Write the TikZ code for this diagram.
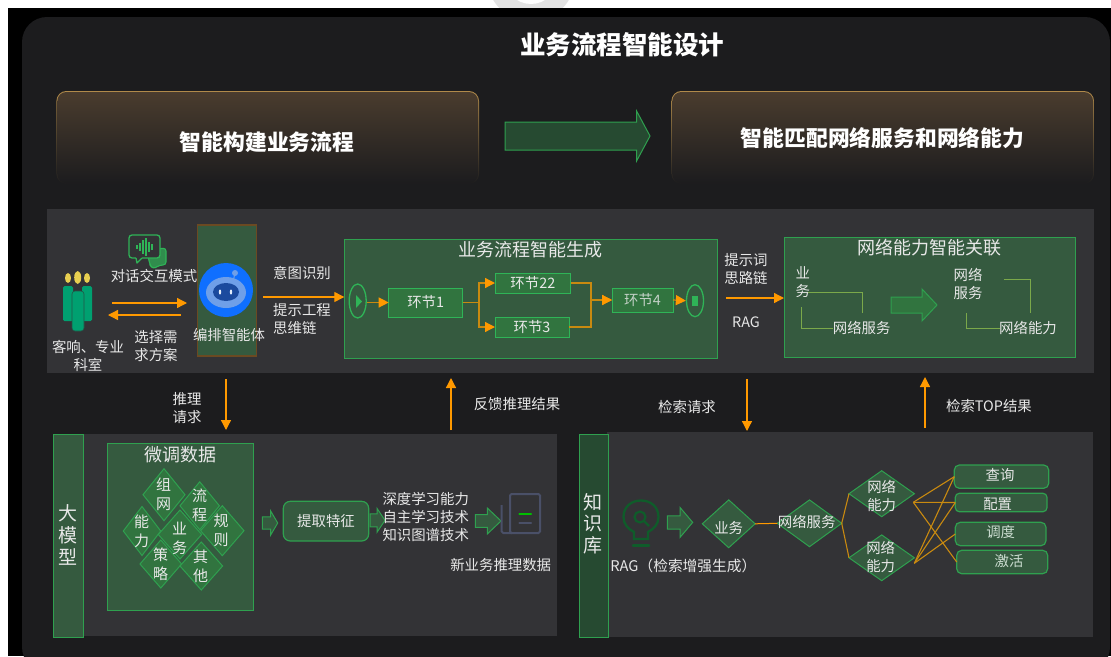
\documentclass[tikz,border=0pt]{standalone}
\usepackage{fontspec}
\setmainfont{Noto Sans CJK SC}
\usetikzlibrary{arrows.meta,shapes.geometric,calc}
\definecolor{pagedark}{HTML}{1C1C1E}
\definecolor{band}{HTML}{333336}
\definecolor{gfill}{HTML}{355A3F}
\definecolor{gmid}{HTML}{31743F}
\definecolor{gdark}{HTML}{264A31}
\definecolor{gline}{HTML}{2FA04F}
\definecolor{gbright}{HTML}{2FB457}
\definecolor{orng}{HTML}{FF9900}
\definecolor{orngd}{HTML}{C98A10}
\definecolor{olive}{HTML}{7BA84A}
\definecolor{txtc}{HTML}{E8E8E8}
\definecolor{iconb}{HTML}{4A5068}
\definecolor{headgold}{HTML}{B08A4A}
\definecolor{headbrown}{HTML}{4A3C2E}
\definecolor{robotbrown}{HTML}{6B4A22}
\definecolor{personc}{HTML}{00A070}
\definecolor{yellowc}{HTML}{E8CF50}
\definecolor{bulbc}{HTML}{0F5C2A}
\definecolor{robotblue}{HTML}{0F6FFF}
\definecolor{robothead}{HTML}{6F9FE8}
\definecolor{robotface}{HTML}{1B4A9E}
\tikzset{
  x=1pt,y=-1pt,
  txt/.style={text=txtc,inner sep=0,outer sep=0,align=center,font=\fontsize{14.4}{18}\selectfont},
  ttl/.style={txt,font=\fontsize{18}{22}\selectfont},
  lbl/.style={txt,font=\fontsize{15}{19}\selectfont},
  bartxt/.style={txt,font=\fontsize{19}{22}\selectfont},
  headtxt/.style={text=white,inner sep=0,font=\fontsize{21.8}{26}\selectfont\bfseries},
  boxa/.style={draw=gline,fill=gfill,line width=1pt,inner sep=0,outer sep=0},
  stepbox/.style={draw=gbright,fill=gmid,line width=1pt,inner sep=0,outer sep=0},
  roundbox/.style={draw=gline,fill=gfill,line width=1.2pt,inner sep=0,outer sep=0,rounded corners=5pt},
  dia/.style={diamond,draw=gline,fill=gmid,line width=1pt,inner sep=0,outer sep=0},
  diab/.style={diamond,draw=gline,fill=gfill,line width=1pt,inner sep=0,outer sep=0},
  oarrow/.style={draw=orng,line width=1.3pt,-{Triangle[length=10pt,width=10pt,color=orng]}},
  flow/.style={draw=orngd,line width=1.2pt,-{Triangle[length=10pt,width=10pt,color=orng]}},
  link/.style={draw=orngd,line width=1.1pt},
  oliveln/.style={draw=olive,line width=1pt},
  blockg/.style={draw=gline,fill=gfill,line width=1pt},
}
\newcommand{\rectnode}[6]{\node[#1,minimum width={(#5-#3)*1pt},minimum height={(#6-#4)*1pt}] (#2) at ({(#3+#5)/2},{(#4+#6)/2}) {};}
\newcommand{\blockarr}[7][blockg]{\draw[#1] ({#2},{#5-#6}) -- ({#3},{#5-#6}) -- ({#3},{#5-#7}) -- ({#4},{#5}) -- ({#3},{#5+#7}) -- ({#3},{#5+#6}) -- ({#2},{#5+#6}) -- cycle;}
\newcommand{\dianode}[6]{\node[#1,minimum width={2*#5*1pt},minimum height={2*#6*1pt}] (#2) at (#3,#4) {};}
\newcommand{\headbox}[4]{%
  \shade[top color=headgold,bottom color=pagedark,rounded corners=10pt] (#1,#3) rectangle (#2,#4);
  \shade[top color=headbrown,bottom color=pagedark,rounded corners=9pt] ({#1+1},{#3+1}) rectangle ({#2-1},{#4-1});}
\begin{document}
\begin{tikzpicture}
\useasboundingbox (0,0) rectangle (1111,656);
\fill[white] (0,0) rectangle (1111,656);
\begin{scope}
\clip (0,0) rectangle (1111,10);
\fill[gray!22] (531,-22.5) circle (44);
\fill[white] (531,-22.5) circle (26.5);
\end{scope}
\fill[black] (8,8) rectangle (1111,656);
\begin{scope}
\clip (0,0) rectangle (1111,656);
\fill[pagedark,rounded corners=25pt] (22,17) rectangle (1110,672);
\end{scope}

% title and headers
\node[headtxt,font=\fontsize{25.5}{30}\selectfont\bfseries] (title) at (622,45) {业务流程智能设计};
\headbox{56.4}{479}{91}{184}
\headbox{671.4}{1094}{91}{184}
\node[headtxt] (h1) at (267,142) {智能构建业务流程};
\node[headtxt] (h2) at (882.5,138) {智能匹配网络服务和网络能力};
\blockarr[draw=gline,fill=gdark,line width=1pt]{505}{636.6}{650}{136}{14}{25}

% bands
\fill[band] (47,209) rectangle (1094,373);
\fill[band] (53,434) rectangle (556.7,636);
\fill[band] (606.7,432.3) rectangle (1093.3,637);

% person
\fill[personc,rounded corners=1.5pt] (63,286) rectangle (73,321);
\fill[personc,rounded corners=1.5pt] (82,286) rectangle (92,321);
\filldraw[fill=personc,rounded corners=3pt,draw=band!70!personc,line width=.6pt] (72,291) rectangle (84,331);
\fill[yellowc] (68,278) ellipse (3 and 5);
\fill[yellowc] (77.7,277.5) ellipse (3.5 and 6.5);
\fill[yellowc] (87,278) ellipse (3 and 5);
\node[txt] (p1) at (88,356) {客响、专业\\科室};

% chat icon
\filldraw[draw=gbright,line width=1.1pt,fill=gbright!70!band,rounded corners=3pt] (148,256) -- (148,250) -- (166,248) -- (166,265) -- (160,265) -- (153,269) -- (150,265) -- cycle;
\filldraw[draw=gbright,line width=1.3pt,fill=band,rounded corners=3pt] (129,235) rectangle (160,258);
\fill[band] (136,256) rectangle (142,260);
\draw[gbright,line width=1.3pt,line join=round] (136,258) -- (137,263) -- (142,258);
\foreach \bx/\bh in {137/2,140/4,143/7,146/9,149/5,152/3}{
  \draw[gbright,line width=1.2pt] (\bx,247-\bh) -- (\bx,247+\bh);
}
\node[txt] (chat) at (154,276) {对话交互模式};

% robot
\rectnode{draw=robotbrown,fill=gfill,line width=1.2pt,inner sep=0,outer sep=0}{robot}{197.3}{225}{256.7}{356}
\fill[robotblue] (226,290) circle (27);
\fill[robothead] (235,273) circle (3);
\draw[robothead,line width=1pt] (235,273) -- (233,282);
\fill[robothead] (226,292.5) ellipse (20 and 15.5);
\fill[robotface] (226,292) ellipse (13 and 9);
\fill[white!80!robothead] (220,292) ellipse (1.2 and 2.5);
\fill[white!80!robothead] (231,292) ellipse (1.2 and 2.5);
\node[txt] (robotl) at (229,335) {编排智能体};

\coordinate (u1) at (112,303);
\coordinate (u2) at (187,303);
\draw[oarrow] (u1) -- (u2);
\coordinate (u3) at (181,315);
\coordinate (u4) at (108,315);
\draw[oarrow] (u3) -- (u4);
\node[txt] (choose) at (156,346) {选择需\\求方案};
\node[txt] (yt) at (302,273) {意图识别};
\node[txt,align=left] (ts) at (302,319) {提示工程\\思维链};

% process box
\rectnode{boxa}{proc}{344.3}{239}{717}{358}
\node[ttl] (proct) at (530.7,250) {业务流程智能生成};
\coordinate (u5) at (263,297);
\draw[oarrow] (u5) -- (u5 -| proc.west);
\node[draw=gbright,line width=1.3pt,ellipse,minimum width=17pt,minimum height=34pt,inner sep=0] (st) at (357.7,301) {};
\fill[gbright] (356,295) -- (362,301.5) -- (356,308) -- cycle;
\rectnode{stepbox}{e1}{388.7}{288}{462.7}{317}
\rectnode{stepbox}{e22}{495}{273}{570.7}{293}
\rectnode{stepbox}{e3}{495}{317}{569}{337}
\rectnode{stepbox}{e4}{612}{288}{673}{312}
\node[txt] at (e1) {环节1};
\node[txt] at (e22) {环节22};
\node[txt] at (e3) {环节3};
\node[txt,text=txtc!80!gmid] at (e4) {环节4};
\node[draw=gbright,line width=1.3pt,ellipse,minimum width=17pt,minimum height=32pt,inner sep=0] (en) at (695,300.7) {};
\fill[gbright] (692,296) rectangle (698,306);
\draw[flow] (st.east |- e1.west) -- (e1.west);
\draw[flow] (e1.east) -- (479,302.5) |- (e22.west);
\draw[flow] (e1.east) -- (479,302.5) |- (e3.west);
\draw[flow] (e22.east) -| (591,300) -- (e4.west);
\draw[flow] (e3.east) -| (591,300) -- (e4.west);
\draw[flow] (e4.east) -- (en.west);

% capability box
\rectnode{boxa}{cap}{784}{237}{1075}{357}
\node[ttl] (capt) at (929,248) {网络能力智能关联};
\node[txt] (prompt) at (746,269) {提示词\\思路链};
\node[txt] (rag) at (746,322) {RAG};
\coordinate (u6) at (726,298);
\draw[oarrow] (u6) -- (u6 -| cap.west);
\node[txt] (yw) at (802.7,282) {业\\务};
\node[txt] (fw1) at (861.7,328) {网络服务};
\draw[oliveln] (808,292) -- (862.7,292) -- (862.7,313);
\draw[oliveln] (801,307) -- (801,328) -- (fw1.west);
\blockarr[draw=gline,fill=gmid,line width=1pt]{891}{922}{937}{305}{8}{16}
\node[txt] (fw2) at (968,283.5) {网络\\服务};
\draw[oliveln] (1004,279) -- (1030,279) -- (1030,313);
\draw[oliveln] (966,313) -- (966,328) -- (1000,328);
\node[txt] (nl1) at (1028,328) {网络能力};

% vertical arrows
\coordinate (v1) at (226,379); \coordinate (v2) at (226,430);
\draw[oarrow] (v1) -- (v2);
\coordinate (v3) at (451,430); \coordinate (v4) at (451,378);
\draw[oarrow] (v3) -- (v4);
\coordinate (v5) at (747,379); \coordinate (v6) at (747,431);
\draw[oarrow] (v5) -- (v6);
\coordinate (v7) at (925,428); \coordinate (v8) at (925,377);
\draw[oarrow] (v7) -- (v8);
\node[txt] (t1) at (187,408.5) {推理\\请求};
\node[txt] (t2) at (517,404) {反馈推理结果};
\node[txt] (t3) at (687,407) {检索请求};
\node[txt] (t4) at (989,406) {检索TOP结果};

% large model
\rectnode{boxa}{dm}{53.3}{434.3}{83.3}{637}
\node[bartxt] (dmt) at (67.5,534.5) {大\\模\\型};
\rectnode{boxa}{wt}{107.3}{443.3}{253.7}{610.7}
\node[ttl] (wtt) at (180,454.3) {微调数据};
\dianode{dia}{d1}{164}{494.7}{21}{26}
\dianode{dia}{d3}{142}{531}{18.7}{24.5}
\dianode{dia}{d2}{199.7}{505.8}{19.7}{24}
\dianode{dia}{d5}{222.3}{530.7}{21.7}{25}
\dianode{dia}{d4}{180}{534.5}{21.7}{24.5}
\dianode{dia}{d6}{160.8}{564}{20.8}{24}
\dianode{dia}{d7}{201.3}{566}{21.3}{24}
\node[lbl] at (163.5,494.5) {组\\网};
\node[lbl] at (199.7,505.5) {流\\程};
\node[lbl] at (141.5,531) {能\\力};
\node[lbl] at (179.5,538) {业\\务};
\node[lbl] at (221,530.5) {规\\则};
\node[lbl] at (160.5,564) {策\\略};
\node[lbl] at (200.5,566.5) {其\\他};
\blockarr{262.3}{270.7}{277.7}{523}{6.2}{12}
\rectnode{roundbox,rounded corners=7pt}{tq}{283.3}{501.3}{368.7}{541}
\node[txt] at (tq) {提取特征};
\blockarr{370}{377}{385}{520.3}{6.5}{12}
\node[txt] (skills) at (425.7,517) {深度学习能力\\自主学习技术\\知识图谱技术};
\blockarr{475.3}{487.3}{501}{521}{6.3}{13}
% doc icon
\draw[iconb,line width=2pt,rounded corners=1.5pt] (510,533) -- (510,494) -- (540,494) -- (540,533) -- cycle;
\draw[iconb,line width=2pt,rounded corners=1.5pt] (501.7,505) -- (501.7,533) -- (512,533);
\draw[green!75!black,line width=2.4pt,line cap=round] (519.5,513.7) -- (531,513.7);
\draw[iconb,line width=2.4pt,line cap=round] (519.5,523) -- (531,523);
\node[txt] (newd) at (500.7,565.3) {新业务推理数据};

% knowledge base
\rectnode{draw=gline,fill=gdark,line width=1pt,inner sep=0,outer sep=0}{kb}{579.3}{434.3}{608.3}{637}
\node[bartxt,font=\fontsize{19}{21.5}\selectfont] (kbt) at (593,523.5) {知\\识\\库};
\draw[bulbc,line width=2.3pt] (634,539) -- (634,532) .. controls (628,529) and (623.5,524) .. (623.5,517) .. controls (623.5,507) and (631,500.5) .. (641,500.5) .. controls (651,500.5) and (658.5,507) .. (658.5,517) .. controls (658.5,524) and (654,529) .. (648,532) -- (648,539) -- cycle;
\draw[bulbc,line width=2.2pt] (640,517) circle (5.5);
\draw[bulbc,line width=2.2pt] (644,521) -- (649,526);
\draw[bulbc,line width=2.8pt,line cap=round] (633,545.7) -- (649,545.7);
\blockarr{667.3}{680}{692.7}{522.4}{6.6}{15}
\node[txt,font=\fontsize{14.7}{18}\selectfont] (ragt) at (683.3,566.3) {RAG（检索增强生成）};
\dianode{diab}{r1}{728.7}{523.8}{26.4}{23.9}
\dianode{diab}{r2}{809.5}{523.3}{32.2}{23.4}
\dianode{diab}{r3}{881.7}{493.7}{32.7}{23}
\dianode{diab}{r4}{881.7}{557.8}{32.7}{22.9}
\draw[draw=orng,line width=1pt] (r1.east) -- (r2.west);
\draw[link] (r2.east) -- (r3.west);
\draw[link] (r2.east) -- (r4.west);
\node[txt] at (728.7,527.7) {业务};
\node[txt] at (806.7,521.7) {网络服务};
\node[txt] at (881.7,495.5) {网络\\能力};
\node[txt] at (880.7,557) {网络\\能力};
\rectnode{roundbox}{k1}{954.3}{465}{1048.7}{488.3}
\rectnode{roundbox,rounded corners=4pt}{k2}{955.3}{493.3}{1047}{511.7}
\rectnode{roundbox}{k3}{955.3}{522.3}{1046}{545.7}
\rectnode{roundbox}{k4}{956.7}{550.3}{1047.7}{573.7}
\node[txt] at (1000,475) {查询};
\node[txt] at (997.7,504) {配置};
\node[txt,text=txtc!85!gline] at (1000.7,532) {调度};
\node[txt,text=txtc!85!gline] at (1009,561) {激活};
\coordinate (pa) at (913.3,502.3);
\coordinate (pb) at (914.3,563.3);
\draw[link] (pa) -- (k1.west);
\draw[link] (pa) -- (k2.west);
\draw[link] (pa) -- (k4.west);
\draw[link] (pb) -- (k1.west);
\draw[link] (pb) -- (k2.west);
\draw[link] (pb) -- (k3.west);
\end{tikzpicture}
\end{document}
